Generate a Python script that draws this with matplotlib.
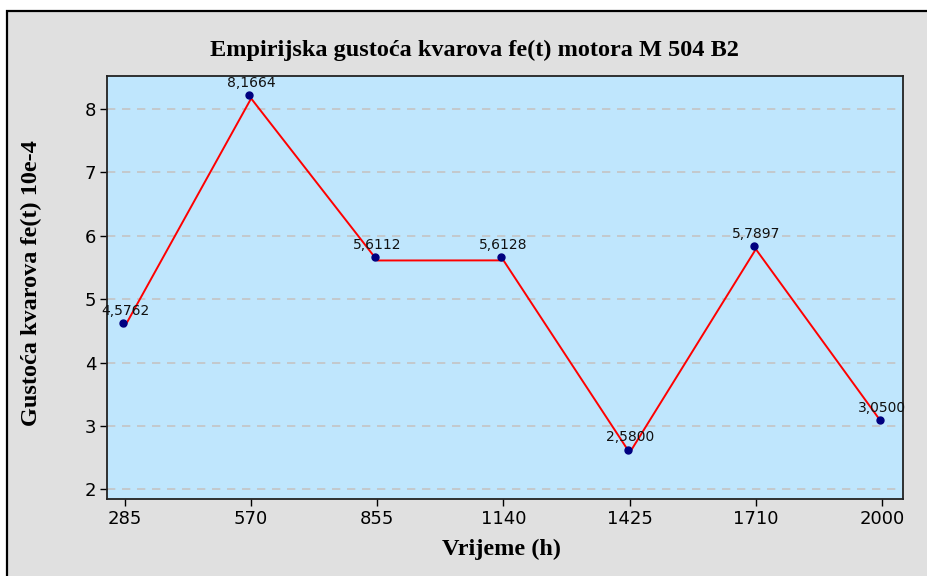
import matplotlib
matplotlib.use("Agg")
import matplotlib.pyplot as plt
import matplotlib.transforms as mtransforms
from matplotlib.patches import Rectangle

# data
hours = ["285", "570", "855", "1140", "1425", "1710", "2000"]
density = [4.5762, 8.1664, 5.6112, 5.6128, 2.5800, 5.7897, 3.0500]
labels = ["4,5762", "8,1664", "5,6112", "5,6128", "2,5800", "5,7897", "3,0500"]
y_ticks = [2, 3, 4, 5, 6, 7, 8]

W, H, DPI = 928, 576, 100
fig = plt.figure(figsize=(W / DPI, H / DPI), dpi=DPI)
fig.patch.set_facecolor("white")

# grey frame around the whole chart, cut off at right and bottom
frame = Rectangle((7 / W, -0.05), 1.1, 1 - 11 / H + 0.05, transform=fig.transFigure,
                  facecolor="#e0e0e0", edgecolor="black", linewidth=1.6, zorder=-10)
fig.patches.append(frame)

left, right, top, bottom = 107.3, 902.7, 75.7, 499.0
ax = fig.add_axes([left / W, 1 - bottom / H, (right - left) / W, (bottom - top) / H])
ax.set_zorder(1)
ax.set_facecolor("#bfe6fd")

x = list(range(len(hours)))
ax.plot(x, density, color="#ff0000", linewidth=1.4, zorder=3)
shift = mtransforms.ScaledTranslation(-2 / DPI, 3 / DPI, fig.dpi_scale_trans)
ax.plot(x, density, linestyle="none", marker="o", markersize=5, color="#000080",
        transform=ax.transData + shift, zorder=4)
for xi, yi, lab in zip(x, density, labels):
    ax.annotate(lab, (xi, yi), xytext=(0, 6), textcoords="offset points",
                ha="center", va="bottom", fontsize=10, color="#111111",
                family="DejaVu Sans", zorder=5)

ax.set_xlim(-0.14, 6.164)
ax.set_ylim(1.85, 8.525)
ax.set_xticks(x)
ax.set_xticklabels(hours)
ax.set_yticks(y_ticks)
ax.yaxis.grid(True, linestyle=(0, (5, 4)), color="#c4c4c4", linewidth=1.2)
ax.set_axisbelow(True)
ax.tick_params(axis="both", direction="out", length=5, width=1, labelsize=13,
               colors="black", pad=3)
for sp in ax.spines.values():
    sp.set_linewidth(1.3)
    sp.set_color("#222222")

serif = ["Liberation Serif", "DejaVu Serif"]
fig.text(474 / W, 1 - 50 / H, "Empirijska gustoća kvarova fe(t) motora M 504 B2",
         ha="center", va="center", fontsize=17.5, fontweight="bold", family=serif)
fig.text(31 / W, 1 - 283 / H, "Gustoća kvarova fe(t) 10e-4", rotation=90,
         ha="center", va="center", fontsize=17.5, fontweight="bold", family=serif)
fig.text(502 / W, 1 - 549 / H, "Vrijeme (h)", ha="center", va="center",
         fontsize=17.5, fontweight="bold", family=serif)

fig.savefig("out.png", dpi=DPI)
